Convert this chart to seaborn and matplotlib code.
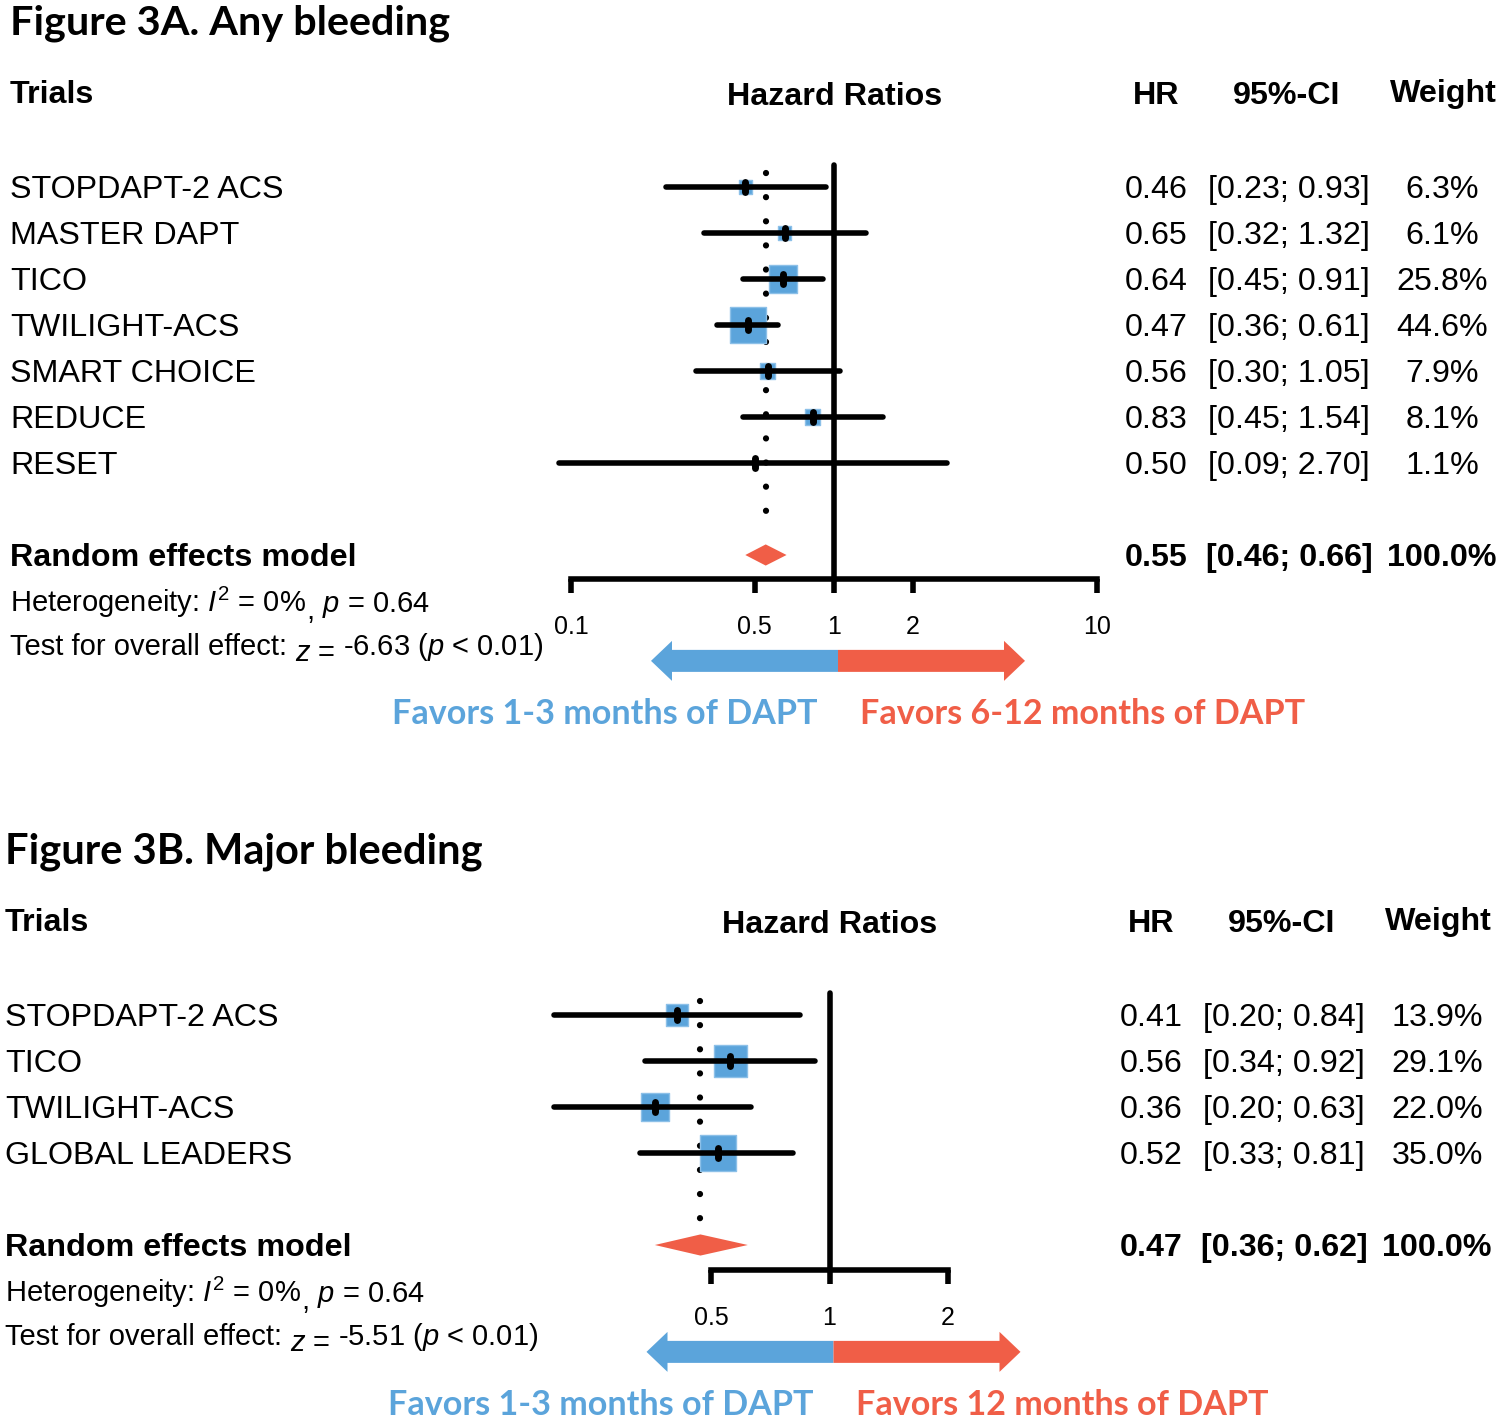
import numpy as np
import pandas as pd
import seaborn as sns
import matplotlib.pyplot as plt
from matplotlib.transforms import blended_transform_factory
from matplotlib.patches import Polygon
from matplotlib.ticker import NullLocator

# Figure 3A - any bleeding
trials_a = ['STOPDAPT-2 ACS', 'MASTER DAPT', 'TICO', 'TWILIGHT-ACS', 'SMART CHOICE', 'REDUCE', 'RESET']
hr_a = [0.46, 0.65, 0.64, 0.47, 0.56, 0.83, 0.50]
lo_a = [0.23, 0.32, 0.45, 0.36, 0.30, 0.45, 0.09]
hi_a = [0.93, 1.32, 0.91, 0.61, 1.05, 1.54, 2.70]
wt_a = [6.3, 6.1, 25.8, 44.6, 7.9, 8.1, 1.1]
pooled_a = [0.55, 0.46, 0.66, 100.0]
ticks_a = [0.1, 0.5, 1, 2, 10]
tick_labels_a = ['0.1', '0.5', '1', '2', '10']
het_a = ['0%', '0.64']
z_a = '-6.63'

# Figure 3B - major bleeding
trials_b = ['STOPDAPT-2 ACS', 'TICO', 'TWILIGHT-ACS', 'GLOBAL LEADERS']
hr_b = [0.41, 0.56, 0.36, 0.52]
lo_b = [0.20, 0.34, 0.20, 0.33]
hi_b = [0.84, 0.92, 0.63, 0.81]
wt_b = [13.9, 29.1, 22.0, 35.0]
pooled_b = [0.47, 0.36, 0.62, 100.0]
ticks_b = [0.5, 1, 2]
tick_labels_b = ['0.5', '1', '2']
het_b = ['0%', '0.64']
z_b = '-5.51'

BLUE = '#5BA4DB'
RED = '#F05E47'
W, H = 1500, 1420
ROW = 46.0

sns.set_style('white')
plt.rcParams['font.family'] = ['Liberation Sans', 'DejaVu Sans']
plt.rcParams['mathtext.fontset'] = 'custom'
plt.rcParams['mathtext.rm'] = 'Liberation Sans'
plt.rcParams['mathtext.it'] = 'Liberation Sans:italic'
plt.rcParams['text.color'] = 'black'
plt.rcParams['xtick.color'] = 'black'
plt.rcParams['xtick.labelcolor'] = 'black'

fig = plt.figure(figsize=(15, 14.2), dpi=100)
renderer = fig.canvas.get_renderer()


def fx(px):
    return px / W


def chain(ax, tr, x_px, y, pieces, size):
    # pieces: (text, vertical shift in rows, gap before in px)
    x = x_px
    for txt, dy, gap in pieces:
        x += gap
        t = ax.text(fx(x), y + dy, txt, transform=tr, fontsize=size, va='baseline', ha='left')
        x = t.get_window_extent(renderer).x1


def forest(title, trials, hr, lo, hi, wt, pooled, ticks, tick_labels, het, z,
           right_label, ax_px, top_px, row0_px, axis_px, shift, title_size):
    n = len(trials)
    pr = n + 1
    ylo = (axis_px - row0_px) / ROW
    yhi = (top_px - row0_px) / ROW
    ax = fig.add_axes([fx(ax_px[0]), 1 - axis_px / H, fx(ax_px[1] - ax_px[0]), (axis_px - top_px) / H])
    ax.set_xscale('log')
    ax.set_xlim(ticks[0], ticks[-1])
    ax.set_ylim(ylo, yhi)
    for s in ['top', 'left', 'right']:
        ax.spines[s].set_visible(False)
    ax.spines['bottom'].set_linewidth(4.0)
    ax.spines['bottom'].set_color('k')
    ax.set_xticks(ticks)
    ax.set_xticklabels(tick_labels)
    ax.xaxis.set_minor_locator(NullLocator())
    ax.set_yticks([])
    ax.tick_params(axis='x', direction='out', length=10, width=4.0, color='k',
                   labelsize=18, labelcolor='k', pad=16, bottom=True)
    ax.patch.set_alpha(0)

    rows = np.arange(n)
    df = pd.DataFrame({'hr': hr, 'row': rows, 'wt': wt})
    side = 26.0 * np.sqrt(df['wt'] / df['wt'].max())
    # pooled estimate dotted line
    ax.plot([pooled[0], pooled[0]], [-0.3, n + 0.5], color='k', lw=4.5,
            linestyle=(0, (0.01, 3.85)), dash_capstyle='round', clip_on=False, zorder=1)
    # no-effect line
    ax.plot([1, 1], [yhi, ylo], color='k', lw=4.0, solid_capstyle='round', clip_on=False, zorder=1)
    sns.scatterplot(data=df, x='hr', y='row', s=side ** 2, marker='s', color=BLUE,
                    edgecolor='#8CC0E8', linewidth=1, ax=ax, zorder=2, clip_on=False, legend=False)
    for i in range(n):
        ax.plot([lo[i], hi[i]], [i, i], color='k', lw=4.0, solid_capstyle='round', clip_on=False, zorder=3)
        ax.plot([hr[i], hr[i]], [i - 0.1, i + 0.1], color='k', lw=5.0, solid_capstyle='round',
                clip_on=False, zorder=4)
    ax.fill([pooled[1], pooled[0], pooled[2], pooled[0]], [pr, pr - 0.23, pr, pr + 0.23],
            color=RED, lw=0, clip_on=False, zorder=3)
    ax.set_xlabel('')
    ax.set_ylabel('')

    tr = blended_transform_factory(fig.transFigure, ax.transData)
    fs = 23.2
    dy = 0.06
    # headers
    hy = -2.0
    ax.text(fx(10 + shift), hy, 'Trials', transform=tr, fontsize=fs, fontweight='bold', va='center')
    ax.text(fx(835 + shift), hy + 0.05, 'Hazard Ratios', transform=tr, fontsize=fs, fontweight='bold',
            va='center', ha='center')
    ax.text(fx(1156 + shift), hy + 0.03, 'HR', transform=tr, fontsize=fs, fontweight='bold', va='center', ha='center')
    ax.text(fx(1287 + shift), hy + 0.03, '95%-CI', transform=tr, fontsize=fs, fontweight='bold', va='center', ha='center')
    ax.text(fx(1443 + shift), hy - 0.03, 'Weight', transform=tr, fontsize=fs, fontweight='bold', va='center', ha='center')
    # rows
    for i in range(n):
        ax.text(fx(10 + shift), i + dy, trials[i], transform=tr, fontsize=fs, va='center')
        ax.text(fx(1156 + shift), i + dy, f'{hr[i]:.2f}', transform=tr, fontsize=fs, va='center', ha='center')
        ax.text(fx(1208 + shift), i + dy, f'[{lo[i]:.2f}; {hi[i]:.2f}]', transform=tr, fontsize=fs, va='center')
        ax.text(fx(1442 + shift), i + dy, f'{wt[i]:.1f}%', transform=tr, fontsize=fs, va='center', ha='center')
    ax.text(fx(10 + shift), pr + dy, 'Random effects model', transform=tr, fontsize=fs, fontweight='bold', va='center')
    ax.text(fx(1156 + shift), pr + dy, f'{pooled[0]:.2f}', transform=tr, fontsize=fs, fontweight='bold',
            va='center', ha='center')
    ax.text(fx(1206 + shift), pr + dy, f'[{pooled[1]:.2f}; {pooled[2]:.2f}]', transform=tr, fontsize=fs,
            fontweight='bold', va='center')
    ax.text(fx(1442 + shift), pr + dy, f'{pooled[3]:.1f}%', transform=tr, fontsize=fs, fontweight='bold',
            va='center', ha='center')
    # heterogeneity and overall effect
    hs = 21
    chain(ax, tr, 10 + shift, pr + 1.0 + 0.23,
          [(f'Heterogeneity: $I^2$ = {het[0]}', 0, 0), (',', 0.17, 0), (f'$p$ = {het[1]}', 0, 8)], hs)
    chain(ax, tr, 10 + shift, pr + 1.95 + 0.23,
          [('Test for overall effect:', 0, 0), ('$z$ =', 0.12, 8), (f'{z} ($p$ < 0.01)', 0, 8)], hs)

    # favour arrows
    mid = ax.transData.transform((1, 0))[0] + 4
    ay = (axis_px - row0_px) / ROW + 1.78
    s_h, h_w, h_l, ln = 11 / ROW, 20 / ROW, 21, 187
    left = [(mid, ay - s_h), (mid - ln + h_l, ay - s_h), (mid - ln + h_l, ay - h_w), (mid - ln, ay),
            (mid - ln + h_l, ay + h_w), (mid - ln + h_l, ay + s_h), (mid, ay + s_h)]
    right = [(mid, ay - s_h), (mid + ln - h_l, ay - s_h), (mid + ln - h_l, ay - h_w), (mid + ln, ay),
             (mid + ln - h_l, ay + h_w), (mid + ln - h_l, ay + s_h), (mid, ay + s_h)]
    for pts, c in [(left, BLUE), (right, RED)]:
        ax.add_patch(Polygon([(fx(px), py) for px, py in pts], closed=True, transform=tr,
                             facecolor=c, edgecolor='none', clip_on=False))
    fy_row = ay + 1.15
    ax.text(fx(mid - 20), fy_row, 'Favors 1-3 months of DAPT', transform=tr, fontsize=24.6, color=BLUE,
            fontweight='bold', family=['Lato', 'DejaVu Sans'], ha='right', va='center')
    ax.text(fx(mid + 22), fy_row, right_label, transform=tr, fontsize=24.6, color=RED,
            fontweight='bold', family=['Lato', 'DejaVu Sans'], ha='left', va='center')
    # title
    ax.text(fx(10 + shift), -3.55, title, transform=tr, fontsize=title_size, fontweight='bold',
            family=['Lato', 'DejaVu Sans'], va='center', color='black')
    return ax


forest('Figure 3A. Any bleeding', trials_a, hr_a, lo_a, hi_a, wt_a, pooled_a, ticks_a, tick_labels_a,
       het_a, z_a, 'Favors 6-12 months of DAPT', (571, 1097), 165, 187, 579, 0, 29.8)
forest('Figure 3B. Major bleeding', trials_b, hr_b, lo_b, hi_b, wt_b, pooled_b, ticks_b, tick_labels_b,
       het_b, z_b, 'Favors 12 months of DAPT', (711, 948), 993, 1015, 1270, -5, 30.0)

fig.savefig('out.png', dpi=100)
